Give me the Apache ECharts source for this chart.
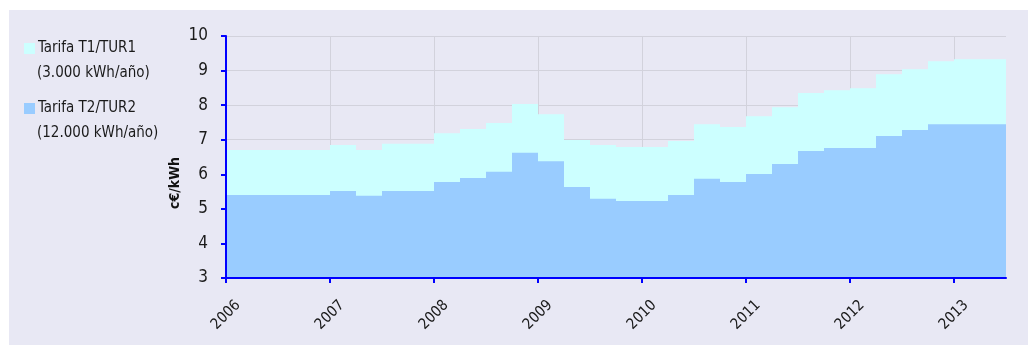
<!DOCTYPE html>
<html>
<head>
<meta charset="utf-8">
<script src="https://cdn.jsdelivr.net/npm/echarts@6/dist/echarts.min.js"></script>
<style>
html,body{margin:0;padding:0;background:#fff;}
#c{width:1028px;height:345px;}
</style>
</head>
<body>
<div id="c"></div>
<script>
// Quarterly periods (year, quarter)
const periods = [
  '2006-1','2006-2','2006-3','2006-4',
  '2007-1','2007-2','2007-3','2007-4',
  '2008-1','2008-2','2008-3','2008-4',
  '2009-1','2009-2','2009-3','2009-4',
  '2010-1','2010-2','2010-3','2010-4',
  '2011-1','2011-2','2011-3','2011-4',
  '2012-1','2012-2','2012-3','2012-4',
  '2013-1','2013-2'
];
const periodEnd = '2013-3';
// Tarifa T1/TUR1 (3.000 kWh/año), c€/kWh
const t1Values = [
  6.70, 6.70, 6.70, 6.70,
  6.85, 6.70, 6.88, 6.88,
  7.19, 7.31, 7.48, 8.03,
  7.74, 6.99, 6.85, 6.79,
  6.79, 6.96, 7.45, 7.37,
  7.68, 7.94, 8.35, 8.43,
  8.49, 8.89, 9.04, 9.27,
  9.33, 9.33
];
// Tarifa T2/TUR2 (12.000 kWh/año), c€/kWh
const t2Values = [
  5.40, 5.40, 5.40, 5.40,
  5.52, 5.38, 5.52, 5.52,
  5.78, 5.89, 6.07, 6.62,
  6.38, 5.63, 5.29, 5.23,
  5.23, 5.40, 5.87, 5.78,
  6.01, 6.30, 6.67, 6.76,
  6.76, 7.11, 7.28, 7.45,
  7.45, 7.45
];
const yearTicks = [2006, 2007, 2008, 2009, 2010, 2011, 2012, 2013];
const legendNames = ['Tarifa T1/TUR1', 'Tarifa T2/TUR2'];
const legendSub = ['(3.000 kWh/año)', '(12.000 kWh/año)'];
const yAxisTitle = 'c€/kWh';

function toX(p){ const [y,q] = p.split('-').map(Number); return y + (q-1)/4; }
function stepData(vals){
  const d = periods.map((p,i)=>[toX(p), vals[i]]);
  d.push([toX(periodEnd), vals[vals.length-1]]);
  return d;
}

const FONT = '"Liberation Sans Narrow", "DejaVu Sans Condensed", sans-serif';
const c1 = '#CCFFFF', c2 = '#99CCFF';
const BLUE = '#0000FF', GRID = '#D2D2DC', TXT = '#1a1a1a';
const xMin = toX(periods[0]), xMax = toX(periodEnd);

const chart = echarts.init(document.getElementById('c'), null, {renderer:'canvas'});
chart.setOption({
  backgroundColor: '#ffffff',
  animation: false,
  graphic: [
    {type:'rect', shape:{x:9, y:10, width:1019, height:335}, style:{fill:'#E8E8F4'}, z:-10, silent:true},
    {type:'rect', shape:{x:24, y:43, width:11, height:11}, style:{fill:c1}},
    {type:'text', x:38, y:48, style:{text:legendNames[0], font:'15px '+FONT, fill:TXT, verticalAlign:'middle'}},
    {type:'text', x:37, y:73, style:{text:legendSub[0], font:'15px '+FONT, fill:TXT, verticalAlign:'middle'}},
    {type:'rect', shape:{x:24, y:103, width:11, height:11}, style:{fill:c2}},
    {type:'text', x:38, y:108, style:{text:legendNames[1], font:'15px '+FONT, fill:TXT, verticalAlign:'middle'}},
    {type:'text', x:37, y:133, style:{text:legendSub[1], font:'15px '+FONT, fill:TXT, verticalAlign:'middle'}},
    {type:'text', x:175, y:183, rotation:Math.PI/2, style:{text:yAxisTitle, font:'bold 14px '+FONT, fill:'#111', align:'center', verticalAlign:'middle'}}
  ],
  grid: {left:226, right:22, top:36, bottom:67, containLabel:false},
  xAxis: [
    {
      type:'value', min:xMin, max:xMax, interval:1, z:0,
      axisLine:{show:false}, axisTick:{show:false},
      axisLabel:{customValues: yearTicks, rotate:45, align:'center', verticalAlign:'middle', margin:37,
        formatter: v => String(v), fontFamily:FONT, fontSize:15, color:TXT},
      splitLine:{show:true, showMaxLine:false, lineStyle:{color:GRID, width:1}}
    },
    {
      type:'value', min:xMin, max:xMax, interval:1, z:10, position:'bottom',
      axisLine:{show:true, onZero:false, lineStyle:{color:BLUE, width:2}},
      axisTick:{show:true, length:5, customValues: yearTicks, lineStyle:{color:BLUE, width:2}},
      axisLabel:{show:false}, splitLine:{show:false}
    }
  ],
  yAxis: [
    {
      type:'value', min:3, max:10, interval:1, z:0,
      axisLine:{show:false}, axisTick:{show:false},
      axisLabel:{margin:18, fontFamily:FONT, fontSize:17, color:TXT},
      splitLine:{show:true, lineStyle:{color:GRID, width:1}}
    },
    {
      type:'value', min:3, max:10, interval:1, z:10, position:'left',
      axisLine:{show:true, onZero:false, lineStyle:{color:BLUE, width:2}},
      axisTick:{show:true, length:5, lineStyle:{color:BLUE, width:2}},
      axisLabel:{show:false}, splitLine:{show:false}
    }
  ],
  series: [
    {name:legendNames[0], type:'line', step:'end', data:stepData(t1Values), showSymbol:false,
      xAxisIndex:0, yAxisIndex:0,
      lineStyle:{width:0, opacity:0}, areaStyle:{color:c1, opacity:1, origin:'start'}, z:2},
    {name:legendNames[1], type:'line', step:'end', data:stepData(t2Values), showSymbol:false,
      xAxisIndex:0, yAxisIndex:0,
      lineStyle:{width:0, opacity:0}, areaStyle:{color:c2, opacity:1, origin:'start'}, z:3}
  ]
});
</script>
</body>
</html>
